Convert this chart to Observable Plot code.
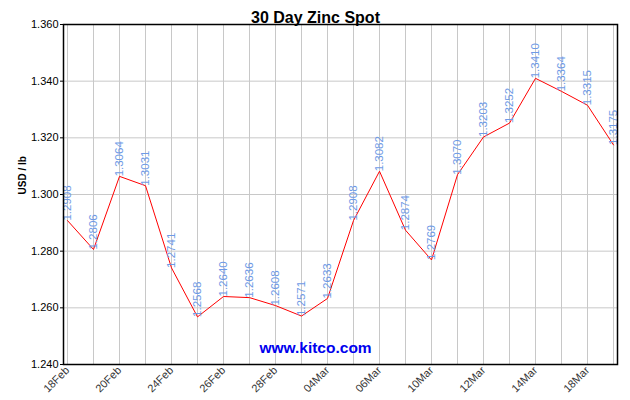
<!DOCTYPE html>
<html>
<head>
<meta charset="utf-8">
<script src="https://cdn.jsdelivr.net/npm/d3@7"></script>
<script src="https://cdn.jsdelivr.net/npm/@observablehq/plot@0.6"></script>
<style>
  html, body { margin: 0; padding: 0; background: #fff; }
  svg { display: block; }
</style>
</head>
<body>
<div id="chart"></div>
<script>
const dates = ["18Feb","19Feb","20Feb","21Feb","24Feb","25Feb","26Feb","27Feb","28Feb","03Mar","04Mar",
               "05Mar","06Mar","07Mar","10Mar","11Mar","12Mar","13Mar","14Mar","17Mar","18Mar","19Mar"];
const prices = [1.2908,1.2806,1.3064,1.3031,1.2741,1.2568,1.2640,1.2636,1.2608,1.2571,1.2633,
                1.2908,1.3082,1.2874,1.2769,1.3070,1.3203,1.3252,1.3410,1.3364,1.3315,1.3175];
const tickDates = ["18Feb","20Feb","24Feb","26Feb","28Feb","04Mar","06Mar","10Mar","12Mar","14Mar","18Mar"];
const yTicks = [1.24,1.26,1.28,1.30,1.32,1.34,1.36];
const title = "30 Day Zinc Spot";
const yLabel = "USD / lb";
const watermark = "www.kitco.com";

const data = dates.map((d, i) => ({date: d, price: prices[i]}));

const chart = Plot.plot({
  width: 630,
  height: 400,
  marginLeft: 63,
  marginRight: 13,
  marginTop: 24,
  marginBottom: 36,
  style: {fontFamily: "'Liberation Sans', Arial, sans-serif", background: "#fff"},
  x: {type: "point", domain: dates, padding: 0},
  y: {domain: [1.24, 1.36]},
  marks: [
    Plot.gridX(dates, {stroke: "#c8c8c8", strokeOpacity: 1}),
    Plot.gridY(yTicks, {stroke: "#c8c8c8", strokeOpacity: 1}),
    Plot.axisY(yTicks, {tickFormat: d3.format(".3f"), tickSize: 3, fontSize: 11, fill: "#000", color: "#000", label: null, tickPadding: 2}),
    Plot.axisX(tickDates, {tickRotate: -45, tickSize: 0, fontSize: 11, fill: "#333", label: null, tickPadding: 4}),
    Plot.text([watermark], {frameAnchor: "bottom", dx: -25, dy: -12, text: d => d, fill: "#0000ee", fontWeight: "bold", fontSize: 15.5}),
    Plot.line(data, {x: "date", y: "price", stroke: "#ff0000", strokeWidth: 1}),
    Plot.text(data, {x: "date", y: "price", text: d => d3.format(".4f")(d.price), rotate: -90, textAnchor: "start", fill: "#6e9ae6", fontSize: 11.5}),
    Plot.frame({stroke: "#000", strokeWidth: 1.5}),
    Plot.text([title], {frameAnchor: "top", dy: -13, dx: -25, text: d => d, fontWeight: "bold", fontSize: 16, fill: "#000"}),
    Plot.text([yLabel], {frameAnchor: "left", dx: -41, rotate: -90, text: d => d, fontWeight: "bold", fontSize: 10, fill: "#000"})
  ]
});
document.getElementById("chart").appendChild(chart);
</script>
</body>
</html>
